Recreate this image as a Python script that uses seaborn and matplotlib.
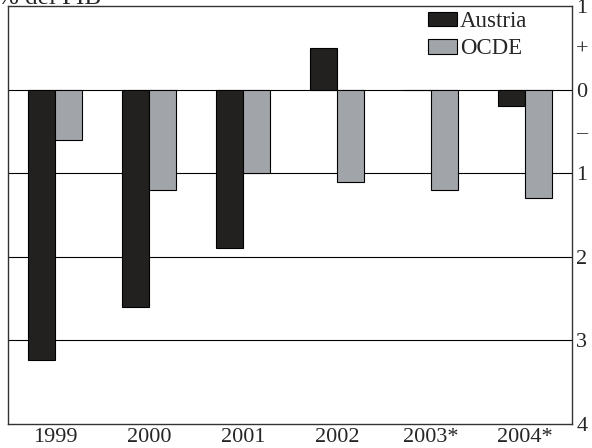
import pandas as pd
import matplotlib.pyplot as plt
import seaborn as sns

# values (% del PIB)
years = ["1999", "2000", "2001", "2002", "2003*", "2004*"]
austria = [-3.24, -2.6, -1.9, 0.5, 0.0, -0.2]
ocde = [-0.6, -1.2, -1.0, -1.1, -1.2, -1.3]
ytick_vals = [1, 0.5, 0, -0.5, -1, -2, -3, -4]
ytick_labels = ["1", "+", "0", "\u2013", "1", "2", "3", "4"]

df = pd.DataFrame({
    "year": years * 2,
    "value": austria + ocde,
    "series": ["Austria"] * len(years) + ["OCDE"] * len(years),
})

sns.set_style("white")
plt.rcParams["font.family"] = ["Liberation Serif", "DejaVu Serif"]
plt.rcParams["font.size"] = 16

fig = plt.figure(figsize=(5.92, 4.48), dpi=100)
ax = fig.add_axes([8 / 592, 24 / 448, 564 / 592, 418 / 448])

# horizontal reference lines behind the bars
for g in [0, -1, -2, -3]:
    ax.axhline(g, color="black", lw=0.8, zorder=0)

sns.barplot(data=df, x="year", y="value", hue="series", order=years,
            palette={"Austria": "#231f20", "OCDE": "#a0a5aa"},
            width=0.58, edgecolor="black", linewidth=0.8, ax=ax, zorder=2)

ax.set_ylim(-4, 1)
ax.set_xlim(-0.5, len(years) - 0.5)
ax.set_xlabel("")
ax.set_ylabel("")

ax.yaxis.tick_right()
ax.set_yticks(ytick_vals)
ax.set_yticklabels(ytick_labels, fontsize=16)
ax.tick_params(axis="y", length=0, pad=3)

ax.set_xticks(range(len(years)))
ax.set_xticklabels(years, fontsize=16)
ax.set_xticks([i + 0.5 for i in range(len(years) - 1)], minor=True)
ax.tick_params(axis="x", which="major", length=0, pad=3)
ax.tick_params(axis="x", which="minor", direction="in", length=5, width=0.8, color="black")

for s in ax.spines.values():
    s.set_color("#333333")
    s.set_linewidth(1.0)

handles, labels = ax.get_legend_handles_labels()
ax.legend(handles, labels, loc="upper left", bbox_to_anchor=(428 / 592, 1 - 11 / 448),
          bbox_transform=fig.transFigure, frameon=False, fontsize=16.5,
          handlelength=1.27, handleheight=0.61, handletextpad=0.13,
          labelspacing=0.28, borderpad=0, borderaxespad=0)

fig.text(-0.004, 1 - 4 / 448, "% del PIB", ha="left", va="baseline", fontsize=18)

fig.savefig("out.png", dpi=100)
plt.close(fig)
